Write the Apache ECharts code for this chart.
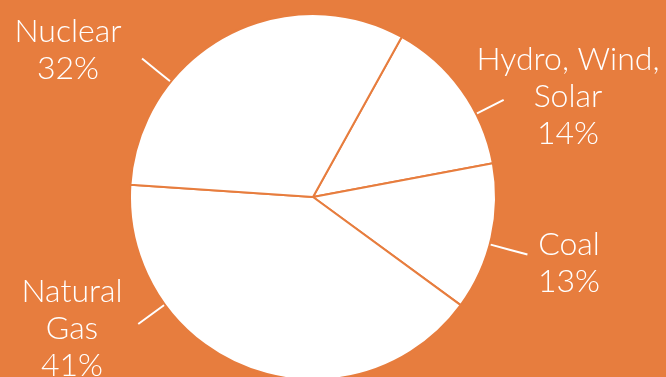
<!DOCTYPE html>
<html>
<head>
<meta charset="utf-8">
<script src="https://cdn.jsdelivr.net/npm/echarts@6/dist/echarts.min.js"></script>
<style>
html,body{margin:0;padding:0;background:#E77D3E;}
#chart{width:666px;height:377px;}
</style>
</head>
<body>
<div id="chart"></div>
<script>
// Data
const categories = ['Hydro, Wind,\nSolar', 'Coal', 'Natural\nGas', 'Nuclear'];
const shares = [14, 13, 41, 32];

// Layout config (label placement, not data)
const BG = '#E77D3E';
const pieCenter = [313, 197];
const pieRadius = 183;
const labelPos = [[568, 97], [569, 263], [72, 329], [68, 50]];
const lineAngle = [63, 105, 234, 309]; // degrees clockwise from 12 o'clock
const lineLen = [31, 39, 33, 37];

const chart = echarts.init(document.getElementById('chart'), null, {renderer: 'canvas'});

function polar(angleDeg, r) {
  const a = angleDeg * Math.PI / 180;
  return [pieCenter[0] + r * Math.sin(a), pieCenter[1] - r * Math.cos(a)];
}

chart.setOption({
  backgroundColor: BG,
  animation: false,
  series: [{
    type: 'pie',
    center: pieCenter,
    radius: pieRadius,
    startAngle: 61,
    clockwise: true,
    silent: true,
    itemStyle: {color: '#ffffff', borderColor: BG, borderWidth: 2},
    label: {
      show: true,
      position: 'outside',
      formatter: '{b}\n{c}%',
      color: '#ffffff',
      fontFamily: 'Lato',
      fontWeight: 300,
      fontSize: 32,
      lineHeight: 37,
      overflow: 'none'
    },
    labelLine: {show: true, length: 30, length2: 0, lineStyle: {color: '#ffffff', width: 2}},
    labelLayout: function (p) {
      const i = p.dataIndex;
      return {
        x: labelPos[i][0],
        y: labelPos[i][1],
        align: 'center',
        verticalAlign: 'middle',
        labelLinePoints: [polar(lineAngle[i], pieRadius), polar(lineAngle[i], pieRadius + lineLen[i] / 2), polar(lineAngle[i], pieRadius + lineLen[i])]
      };
    },
    data: categories.map((c, i) => ({name: c, value: shares[i]}))
  }]
});
</script>
</body>
</html>
